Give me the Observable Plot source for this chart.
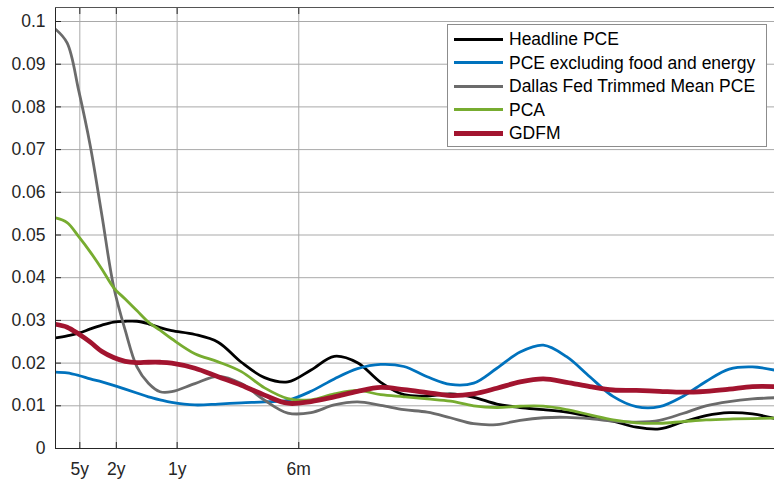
<!DOCTYPE html>
<html>
<head>
<meta charset="utf-8">
<script src="https://cdn.jsdelivr.net/npm/d3@7"></script>
<script src="https://cdn.jsdelivr.net/npm/@observablehq/plot@0.6"></script>
<style>
  body { margin: 0; background: #fff; }
  #chart { position: relative; width: 774px; height: 481px; font-family: "Liberation Sans", Arial, sans-serif; }
  .legend { position: absolute; left: 447px; top: 24px; width: 320px; height: 123px; box-sizing: border-box;
            border: 1px solid #8c8c8c; background: #fff; }
  .row { position: absolute; left: 0; height: 24px; display: flex; align-items: center; }
  .swatch { position: absolute; left: 6px; width: 49px; }
  .label { position: absolute; left: 61px; font-size: 17.5px; color: #000; white-space: nowrap; line-height: 24px; }
</style>
</head>
<body>
<div id="chart"></div>
<script>
// Spectral density by frequency (radians per month)
const freq = [0, 0.05, 0.1, 0.15, 0.2, 0.25, 0.3, 0.35, 0.4, 0.45, 0.5,
  0.6, 0.7, 0.8, 0.9, 1.0, 1.1, 1.2, 1.3, 1.4, 1.5,
  1.6, 1.7, 1.8, 1.9, 2.0, 2.1, 2.2, 2.3, 2.4, 2.5,
  2.6, 2.7, 2.8, 2.9, 3.0, 3.1];

const headline = [0.0259, 0.0264, 0.0270, 0.0280, 0.0289, 0.0296, 0.0298, 0.0298, 0.0292, 0.0283, 0.0276,
  0.0267, 0.0249, 0.0202, 0.0166, 0.0156, 0.0184, 0.0216, 0.0201, 0.0155, 0.0126,
  0.0123, 0.0128, 0.0120, 0.0104, 0.0096, 0.0091, 0.0085, 0.0075, 0.0064, 0.0050,
  0.0046, 0.0062, 0.0077, 0.0084, 0.0081, 0.0070];

const core = [0.0179, 0.0177, 0.0171, 0.0163, 0.0156, 0.0148, 0.0139, 0.0130, 0.0121, 0.0114, 0.0108,
  0.0102, 0.0104, 0.0107, 0.0109, 0.0113, 0.0134, 0.0163, 0.0187, 0.0197, 0.0192,
  0.0168, 0.0150, 0.0153, 0.0188, 0.0226, 0.0242, 0.0215, 0.0168, 0.0122, 0.0098,
  0.0098, 0.0122, 0.0157, 0.0186, 0.0191, 0.0183];

const trimmed = [0.0982, 0.0950, 0.0838, 0.0708, 0.0545, 0.0380, 0.0277, 0.0192, 0.0153, 0.0133, 0.0133,
  0.0152, 0.0169, 0.0152, 0.0113, 0.0083, 0.0084, 0.0102, 0.0109, 0.0101, 0.0091,
  0.0085, 0.0072, 0.0058, 0.0056, 0.0066, 0.0072, 0.0073, 0.0070, 0.0064, 0.0062,
  0.0066, 0.0082, 0.0100, 0.0110, 0.0116, 0.0119];

const pca = [0.0540, 0.0529, 0.0496, 0.0460, 0.0420, 0.0377, 0.0350, 0.0323, 0.0296, 0.0277, 0.0257,
  0.0222, 0.0203, 0.0180, 0.0142, 0.0117, 0.0114, 0.0128, 0.0136, 0.0126, 0.0121,
  0.0116, 0.0111, 0.0100, 0.0096, 0.0099, 0.0099, 0.0091, 0.0079, 0.0067, 0.0060,
  0.0059, 0.0063, 0.0067, 0.0069, 0.0070, 0.0071];

const gdfm = [0.0291, 0.0284, 0.0268, 0.0249, 0.0227, 0.0213, 0.0204, 0.0201, 0.0202, 0.0202, 0.0200,
  0.0188, 0.0168, 0.0148, 0.0125, 0.0106, 0.0110, 0.0121, 0.0134, 0.0143, 0.0138,
  0.0131, 0.0124, 0.0128, 0.0141, 0.0156, 0.0163, 0.0155, 0.0145, 0.0137, 0.0136,
  0.0134, 0.0132, 0.0134, 0.0139, 0.0145, 0.0145];

const seriesNames = ["Headline PCE", "PCE excluding food and energy", "Dallas Fed Trimmed Mean PCE", "PCA", "GDFM"];
const seriesValues = [headline, core, trimmed, pca, gdfm];
const seriesColors = ["#000000", "#0072BD", "#6b6b6b", "#77AC30", "#A2142F"];
const seriesWidths = [2.8, 2.8, 2.8, 2.8, 4.8];

// Period ticks (months) shown on the frequency axis
const periodMonths = [60, 24, 12, 6];
const periodLabels = ["5y", "2y", "1y", "6m"];
const yTicks = [0, 0.01, 0.02, 0.03, 0.04, 0.05, 0.06, 0.07, 0.08, 0.09, 0.1];
const yTickLabels = ["0", "0.01", "0.02", "0.03", "0.04", "0.05", "0.06", "0.07", "0.08", "0.09", "0.1"];

const xTicks = periodMonths.map(m => 2 * Math.PI / m);
const xLabelOf = new Map(xTicks.map((v, i) => [v, periodLabels[i]]));
const yLabelOf = new Map(yTicks.map((v, i) => [v, yTickLabels[i]]));

const rows = seriesNames.map((name, s) =>
  freq.map((f, i) => ({series: name, f, v: seriesValues[s][i]})));

const yMax = 0.10328;
const axisColor = "#262626";
const gridColor = "#a9a9a9";

const chart = Plot.plot({
  width: 774,
  height: 481,
  marginLeft: 55,
  marginRight: 0,
  marginTop: 7,
  marginBottom: 33,
  style: {fontFamily: "'Liberation Sans', Arial, sans-serif", fontSize: "17.5px", color: axisColor, background: "#fff"},
  x: {domain: [0, 3.095]},
  y: {domain: [0, yMax]},
  marks: [
    Plot.gridY(yTicks, {stroke: gridColor, strokeOpacity: 1}),
    Plot.gridX(xTicks, {stroke: gridColor, strokeOpacity: 1}),
    ...rows.map((data, s) => Plot.line(data, {
      x: "f", y: "v", stroke: seriesColors[s], strokeWidth: seriesWidths[s],
      curve: "catmull-rom", clip: true
    })),
    // frame: left, bottom and top edges
    Plot.ruleX([0], {stroke: axisColor, strokeWidth: 1}),
    Plot.ruleY([0], {stroke: axisColor, strokeWidth: 1}),
    Plot.ruleY([yMax], {stroke: "#555", strokeWidth: 1}),
    // inward tick marks
    Plot.axisY(yTicks, {anchor: "left", tickSize: 6, dx: 6, fill: "none", stroke: axisColor, label: null}),
    Plot.axisX(xTicks, {anchor: "bottom", tickSize: 6, dy: -6, fill: "none", stroke: axisColor, label: null}),
    Plot.axisX(xTicks, {anchor: "top", tickSize: 6, dy: 6, fill: "none", stroke: axisColor, label: null}),
    // tick labels
    Plot.axisY(yTicks, {anchor: "left", tickSize: 0, tickPadding: 10, tickFormat: d => yLabelOf.get(d), label: null}),
    Plot.axisX(xTicks, {anchor: "bottom", tickSize: 0, tickPadding: 14, tickFormat: d => xLabelOf.get(d), label: null})
  ]
});

const host = document.getElementById("chart");
host.appendChild(chart);

// Legend box inside the axes
const legend = document.createElement("div");
legend.className = "legend";
seriesNames.forEach((name, i) => {
  const row = document.createElement("div");
  row.className = "row";
  row.style.top = (2 + i * 23.6) + "px";
  const sw = document.createElement("div");
  sw.className = "swatch";
  sw.style.background = seriesColors[i];
  sw.style.height = (i === 4 ? 4.5 : 3) + "px";
  sw.style.top = (12 - (i === 4 ? 2.25 : 1.5)) + "px";
  const lab = document.createElement("div");
  lab.className = "label";
  lab.textContent = name;
  row.appendChild(sw);
  row.appendChild(lab);
  legend.appendChild(row);
});
host.appendChild(legend);
</script>
</body>
</html>
